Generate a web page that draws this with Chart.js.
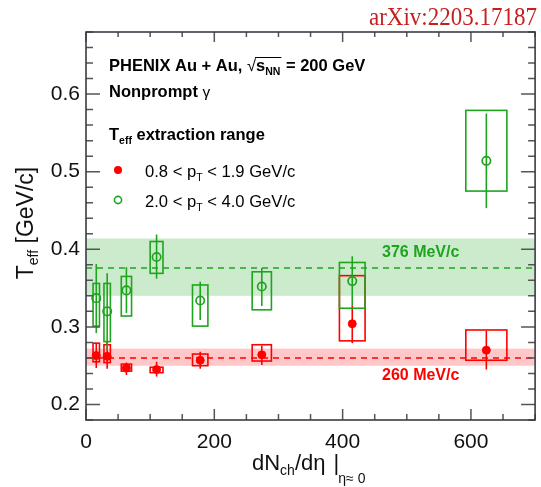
<!DOCTYPE html>
<html><head><meta charset="utf-8">
<script src="https://cdn.jsdelivr.net/npm/chart.js@4/dist/chart.umd.min.js"></script>
<style>html,body{margin:0;padding:0;background:#fff;}#wrap{width:541px;height:487px;position:relative;}</style>
</head><body><div id="wrap"><canvas id="c" width="541" height="487"></canvas></div>
<script>
// ---- data ----
const xValues   = [16, 33, 63, 110, 178, 274, 415, 624];      // dNch/deta
const xSysHalf  = [5, 5, 8, 10, 12, 15, 20, 32];              // half-width of systematic boxes
// 0.8 < pT < 1.9 GeV/c (red, filled)
const lowPtT      = [0.263, 0.262, 0.247, 0.245, 0.257, 0.264, 0.304, 0.270];
const lowPtStatHi = [0.279, 0.282, 0.254, 0.255, 0.268, 0.276, 0.327, 0.295];
const lowPtStatLo = [0.247, 0.246, 0.238, 0.236, 0.246, 0.251, 0.279, 0.245];
const lowPtSysHi  = [0.279, 0.277, 0.252, 0.248, 0.265, 0.277, 0.366, 0.296];
const lowPtSysLo  = [0.255, 0.254, 0.243, 0.241, 0.250, 0.256, 0.282, 0.257];
// 2.0 < pT < 4.0 GeV/c (green, open)
const highPtT      = [0.337, 0.320, 0.347, 0.390, 0.334, 0.352, 0.359, 0.514];
const highPtStatHi = [0.381, 0.369, 0.377, 0.419, 0.358, 0.376, 0.391, 0.575];
const highPtStatLo = [0.292, 0.270, 0.318, 0.362, 0.309, 0.327, 0.327, 0.453];
const highPtSysHi  = [0.356, 0.356, 0.365, 0.410, 0.354, 0.371, 0.383, 0.579];
const highPtSysLo  = [0.301, 0.281, 0.314, 0.369, 0.301, 0.322, 0.324, 0.475];
// average bands
const bandMean  = [0.260, 0.376];
const bandLo    = [0.250, 0.340];
const bandHi    = [0.272, 0.414];
const bandLabel = ['260 MeV/c', '376 MeV/c'];
// ticks
const xTickLabels = [0, 200, 400, 600];
const yTickLabels = [0.2, 0.3, 0.4, 0.5, 0.6];
const X_MIN = 0, X_MAX = 700, Y_MIN = 0.18, Y_MAX = 0.68;

const RED = 'rgb(255,0,0)', GREEN = 'rgb(30,165,30)';
const bandFill = ['rgba(255,0,0,0.22)', 'rgba(34,170,34,0.23)'];
const bandColor = [RED, GREEN];

function parts(ctx, x, y, list, color){
  for (const p of list){
    ctx.font = p.f; ctx.fillStyle = p.c || color;
    ctx.fillText(p.t, x, y + (p.dy||0));
    x += ctx.measureText(p.t).width + (p.dx||0);
  }
  return x;
}
function partsWidth(ctx, list){
  let w = 0; for (const p of list){ ctx.font = p.f; w += ctx.measureText(p.t).width + (p.dx||0); } return w;
}

const plugin = {
  id: 'phenix',
  beforeDatasetsDraw(chart){
    const {ctx, chartArea:a, scales:{x, y}} = chart;
    ctx.save();
    ctx.beginPath(); ctx.rect(a.left, a.top, a.right-a.left, a.bottom-a.top); ctx.clip();
    // bands
    for (let i=0;i<bandMean.length;i++){
      const y1 = y.getPixelForValue(bandHi[i]), y2 = y.getPixelForValue(bandLo[i]);
      ctx.fillStyle = bandFill[i];
      ctx.fillRect(a.left, y1, a.right-a.left, y2-y1);
      ctx.strokeStyle = bandColor[i]; ctx.lineWidth = 1.5; ctx.setLineDash([6,5]);
      const ym = y.getPixelForValue(bandMean[i]);
      ctx.beginPath(); ctx.moveTo(a.left, ym); ctx.lineTo(a.right, ym); ctx.stroke();
      ctx.setLineDash([]);
    }
    // systematic boxes and stat bars
    const sets = [
      [lowPtSysLo, lowPtSysHi, lowPtStatLo, lowPtStatHi, RED],
      [highPtSysLo, highPtSysHi, highPtStatLo, highPtStatHi, GREEN]
    ];
    for (const [sLo, sHi, eLo, eHi, col] of sets){
      ctx.strokeStyle = col; ctx.lineWidth = 1.6;
      for (let i=0;i<xValues.length;i++){
        const x1 = x.getPixelForValue(xValues[i]-xSysHalf[i]);
        const x2 = x.getPixelForValue(xValues[i]+xSysHalf[i]);
        const y1 = y.getPixelForValue(sHi[i]), y2 = y.getPixelForValue(sLo[i]);
        ctx.strokeRect(x1, y1, x2-x1, y2-y1);
        const xc = x.getPixelForValue(xValues[i]);
        ctx.beginPath();
        ctx.moveTo(xc, y.getPixelForValue(eHi[i]));
        ctx.lineTo(xc, y.getPixelForValue(eLo[i]));
        ctx.stroke();
      }
    }
    ctx.restore();
  },
  afterDraw(chart){
    const {ctx, chartArea:a, scales:{x, y}} = chart;
    ctx.save();
    // ticks (inside, all four sides)
    ctx.strokeStyle = '#555'; ctx.lineWidth = 1.5;
    for (let v = 0; v <= X_MAX + 1e-9; v += 50){
      const px = x.getPixelForValue(v);
      const major = (v % 200) === 0;
      const lb = major ? 11 : 6, lt = major ? 10 : 5;
      ctx.beginPath();
      ctx.moveTo(px, a.bottom); ctx.lineTo(px, a.bottom - lb);
      ctx.moveTo(px, a.top); ctx.lineTo(px, a.top + lt);
      ctx.stroke();
    }
    for (let k = 0; k <= 25; k++){
      const v = Y_MIN + k*0.02;
      const py = y.getPixelForValue(v);
      const major = Math.abs(v*10 - Math.round(v*10)) < 1e-6;
      const l = major ? 14 : 7;
      ctx.beginPath();
      ctx.moveTo(a.left, py); ctx.lineTo(a.left + l, py);
      ctx.moveTo(a.right, py); ctx.lineTo(a.right - l, py);
      ctx.stroke();
    }
    // frame
    ctx.strokeStyle = '#3b3b46'; ctx.lineWidth = 1.6;
    ctx.strokeRect(a.left, a.top, a.right-a.left, a.bottom-a.top);

    ctx.textBaseline = 'alphabetic'; ctx.textAlign = 'left';
    const S = '"Liberation Sans", Arial, sans-serif';
    const B = 'bold 16.5px '+S, N = '16.6px '+S;
    // header text
    let cx = parts(ctx, 109, 71, [{t:'PHENIX Au + Au, ', f:B}], '#000');
    cx = parts(ctx, cx, 71, [{t:'√', f:'16.5px '+S}], '#000');
    const ovStart = cx;
    cx = parts(ctx, cx, 71, [{t:'s', f:B},{t:'NN', f:'bold 10.5px '+S, dy:4}], '#000');
    ctx.strokeStyle = '#000'; ctx.lineWidth = 1;
    ctx.beginPath(); ctx.moveTo(ovStart-1, 57.5); ctx.lineTo(cx+1, 57.5); ctx.stroke();
    parts(ctx, cx+1, 71, [{t:' = 200 GeV', f:B}], '#000');
    parts(ctx, 109, 97, [{t:'Nonprompt ', f:B},{t:'γ', f:'15.5px '+S}], '#000');
    parts(ctx, 109, 140, [{t:'T', f:B},{t:'eff', f:'bold 10.5px '+S, dy:4},{t:' extraction range', f:B}], '#000');
    // legend
    ctx.fillStyle = RED; ctx.beginPath(); ctx.arc(118, 170, 4, 0, Math.PI*2); ctx.fill();
    parts(ctx, 145, 177, [{t:'0.8 < p', f:N},{t:'T', f:'10.5px '+S, dy:4},{t:' < 1.9 GeV/c', f:N}], '#000');
    ctx.strokeStyle = GREEN; ctx.lineWidth = 1.6; ctx.beginPath(); ctx.arc(118, 200, 3.6, 0, Math.PI*2); ctx.stroke();
    parts(ctx, 145, 207, [{t:'2.0 < p', f:N},{t:'T', f:'10.5px '+S, dy:4},{t:' < 4.0 GeV/c', f:N}], '#000');
    // band labels
    parts(ctx, 382, 380, [{t:bandLabel[0], f:'bold 16px '+S}], RED);
    parts(ctx, 382, 257, [{t:bandLabel[1], f:'bold 16px '+S}], GREEN);
    // axis titles
    parts(ctx, 252, 470, [{t:'dN', f:'22px '+S},{t:'ch', f:'14px '+S, dy:5},{t:'/dη ', f:'22px '+S, dx:2},{t:'|', f:'22px '+S, dx:-1},{t:'η≈ 0', f:'14px '+S, dy:13}], '#111');
    const yt = [{t:'T', f:'23px '+S},{t:'eff', f:'14px '+S, dy:5},{t:' [GeV/c]', f:'23px '+S}];
    const w = partsWidth(ctx, yt);
    ctx.translate(33, 223); ctx.rotate(-Math.PI/2);
    parts(ctx, -w/2, 0, yt, '#111');
    ctx.setTransform(1,0,0,1,0,0);
    // arXiv label
    ctx.translate(537, 25); ctx.scale(1, 1.12);
    ctx.font = '23px "Liberation Serif", "Times New Roman", serif';
    ctx.fillStyle = 'rgb(200,30,30)'; ctx.textAlign = 'right';
    ctx.fillText('arXiv:2203.17187', 0, 0);
    ctx.setTransform(1,0,0,1,0,0);
    ctx.restore();
  }
};

const chart = new Chart(document.getElementById('c'), {
  type: 'scatter',
  data: {
    datasets: [
      { label: '0.8 < pT < 1.9 GeV/c', data: xValues.map((v,i)=>({x:v, y:lowPtT[i]})),
        pointRadius: 4, pointBackgroundColor: RED, pointBorderColor: RED, pointBorderWidth: 1, showLine: false },
      { label: '2.0 < pT < 4.0 GeV/c', data: xValues.map((v,i)=>({x:v, y:highPtT[i]})),
        pointRadius: 4.2, pointBackgroundColor: 'rgba(0,0,0,0)', pointBorderColor: GREEN, pointBorderWidth: 1.7, showLine: false }
    ]
  },
  options: {
    responsive: false, animation: false, devicePixelRatio: 1, events: [],
    layout: { padding: { top: 32, right: 1, left: 0, bottom: 0 } },
    plugins: { legend: { display: false }, tooltip: { enabled: false } },
    scales: {
      x: { type: 'linear', min: X_MIN, max: X_MAX,
        afterFit(s){ s.height = 67; },
        afterBuildTicks(s){ s.ticks = xTickLabels.map(v=>({value:v})); },
        grid: { display: false, drawTicks: false }, border: { display: false },
        ticks: { padding: 10, color: '#111', font: { family: 'Liberation Sans', size: 21 }, maxRotation: 0, autoSkip: false,
                 callback: v => String(v) } },
      y: { type: 'linear', min: Y_MIN, max: Y_MAX,
        afterFit(s){ s.width = 86; },
        afterBuildTicks(s){ s.ticks = yTickLabels.map(v=>({value:v})); },
        grid: { display: false, drawTicks: false }, border: { display: false },
        ticks: { padding: 6, color: '#111', font: { family: 'Liberation Sans', size: 21 }, autoSkip: false,
                 callback: v => v.toFixed(1) } }
    }
  },
  plugins: [plugin]
});
</script></body></html>
